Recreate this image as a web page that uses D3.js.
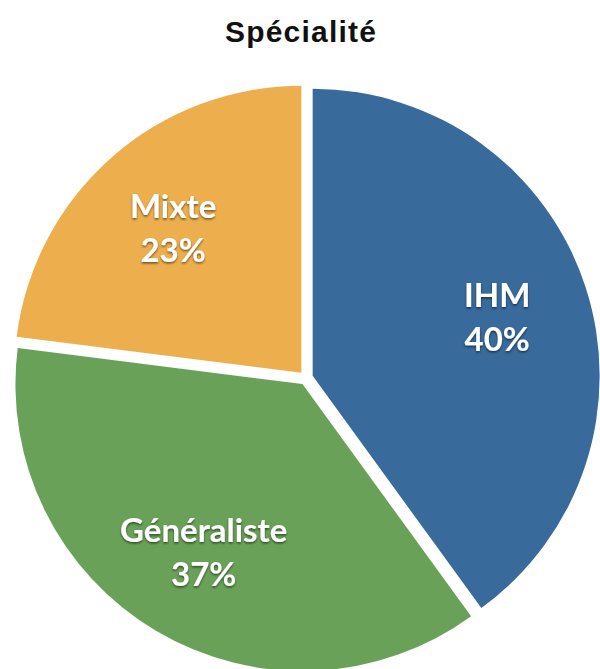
<!DOCTYPE html>
<html>
<head>
<meta charset="utf-8">
<script src="https://cdn.jsdelivr.net/npm/d3@7"></script>
<style>
  html, body { margin: 0; padding: 0; background: #ffffff; }
  svg { display: block; }
</style>
</head>
<body>
<svg id="chart" width="600" height="669"></svg>
<script>
// ---- data ----
const title = "Spécialité";
const categories = ["IHM", "Généraliste", "Mixte"];
const values = [40, 37, 23];
const percentLabels = ["40%", "37%", "23%"];
const colors = ["#386A9B", "#6AA158", "#EDAF4E"];

// ---- layout ----
const W = 600, H = 669;
const cx = 306, cy = 378;
const R = 287;
const explode = 7;
const labelR = 194;

const svg = d3.select("#chart");

const defs = svg.append("defs");
const f = defs.append("filter").attr("id", "shadow")
  .attr("x", "-20%").attr("y", "-20%").attr("width", "140%").attr("height", "140%");
f.append("feDropShadow").attr("dx", 0).attr("dy", 1.5)
  .attr("stdDeviation", 1.3).attr("flood-color", "#000").attr("flood-opacity", 0.55);

svg.append("text")
  .attr("x", 301).attr("y", 42)
  .attr("text-anchor", "middle")
  .attr("font-family", "'Liberation Sans', Arial, Helvetica, sans-serif")
  .attr("font-weight", "bold")
  .attr("font-size", 30)
  .attr("letter-spacing", "1.2px")
  .attr("fill", "#111")
  .text(title);

const data = categories.map((c, i) => ({ name: c, value: values[i], pct: percentLabels[i], color: colors[i] }));

const pie = d3.pie().sort(null).value(d => d.value);
const arcs = pie(data);
const arc = d3.arc().innerRadius(0).outerRadius(R);

const g = svg.append("g").attr("transform", `translate(${cx},${cy})`);

const slice = g.selectAll("g.slice").data(arcs).enter().append("g")
  .attr("class", "slice")
  .attr("transform", d => {
    const a = (d.startAngle + d.endAngle) / 2;
    return `translate(${explode * Math.sin(a)},${-explode * Math.cos(a)})`;
  });

slice.append("path")
  .attr("d", arc)
  .attr("fill", d => d.data.color);

const lab = slice.append("text")
  .attr("text-anchor", "middle")
  .attr("font-family", "Lato, 'Open Sans', sans-serif")
  .attr("font-weight", "bold")
  .attr("font-size", 33)
  .attr("fill", "#ffffff")
  .attr("filter", "url(#shadow)")
  .attr("transform", d => {
    const a = (d.startAngle + d.endAngle) / 2;
    return `translate(${labelR * Math.sin(a)},${-labelR * Math.cos(a)})`;
  });

lab.append("tspan").attr("x", 0).attr("y", -9).text(d => d.data.name);
lab.append("tspan").attr("x", 0).attr("y", 35).text(d => d.data.pct);
</script>
</body>
</html>
